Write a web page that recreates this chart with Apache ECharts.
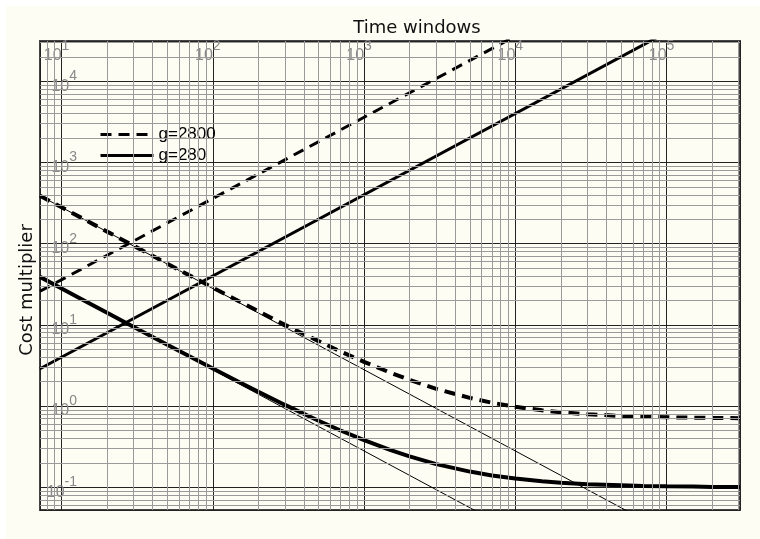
<!DOCTYPE html>
<html><head><meta charset="utf-8">
<script src="https://cdn.jsdelivr.net/npm/echarts@6/dist/echarts.min.js"></script>
<style>html,body{margin:0;padding:0;background:#fff;} #c{position:absolute;left:6px;top:6px;width:754px;height:533px;}</style>
</head><body><div id="c"></div>
<script>
// Axis ranges
const xRange = [7.2, 306000];
const yRange = [0.0525, 31300];

// Sample x positions for the curves
const curveX = [7.2, 10, 15, 20, 30, 50, 70, 100, 150, 200, 300, 500, 700, 1000, 1500, 2000, 3000, 5000, 7000, 10000, 15000, 20000, 30000, 50000, 70000, 100000, 150000, 200000, 306000];
// g=2800 thick dashed curve
const cost2800 = [389.6, 280.7, 187.4, 140.7, 94.0, 56.7, 40.7, 28.7, 19.4, 14.7, 10.0, 6.3, 4.7, 3.5, 2.57, 2.1, 1.63, 1.26, 1.1, 0.98, 0.887, 0.84, 0.793, 0.756, 0.74, 0.728, 0.719, 0.714, 0.709];
// g=280 thick solid curve
const cost280 = [38.99, 28.1, 18.77, 14.1, 9.43, 5.7, 4.1, 2.9, 1.967, 1.5, 1.033, 0.66, 0.5, 0.38, 0.287, 0.24, 0.193, 0.156, 0.14, 0.128, 0.119, 0.114, 0.109, 0.106, 0.104, 0.103, 0.102, 0.101, 0.101];

// Thin straight guide lines (falling)
const guide2800X = [7.2, 60000];
const guide2800Y = [389, 0.0467];
const guide280X = [7.2, 6000];
const guide280Y = [38.9, 0.0467];

// Rising straight lines
const rise2800X = [7.2, 10000];
const rise2800Y = [25.9, 36000];
const rise280X = [7.2, 100000];
const rise280Y = [2.88, 40000];

// Tick decades
const xDecades = [0, 1, 2, 3, 4, 5];
const yDecades = [-2, -1, 0, 1, 2, 3, 4];
const minorMult = [2, 3, 4, 5, 6, 7, 8, 9];

function pairs(xs, ys) { return xs.map((x, i) => [x, ys[i]]); }

const minorLines = [];
xDecades.forEach(d => minorMult.forEach(m => {
  const v = m * Math.pow(10, d);
  if (v > xRange[0] && v < xRange[1]) minorLines.push({ xAxis: v });
}));
yDecades.forEach(d => minorMult.forEach(m => {
  const v = m * Math.pow(10, d);
  if (v > yRange[0] && v < yRange[1]) minorLines.push({ yAxis: v });
}));

const rich = {
  b: { fontSize: 16, lineHeight: 18, padding: [10, 0, 0, 0], color: '#888', fontFamily: 'Liberation Sans' },
  s: { fontSize: 14, lineHeight: 18, padding: [0, 0, 10, 0], color: '#888', fontFamily: 'Liberation Sans' }
};
function supFmt(v) {
  const e = Math.round(Math.log10(v));
  return '{b|10}{s|' + e + '}';
}

const chart = echarts.init(document.getElementById('c'), null, { renderer: 'canvas' });
chart.setOption({
  animation: false,
  backgroundColor: '#fefdf4',
  grid: { left: 34, top: 35, right: 20, bottom: 29, show: true, borderColor: '#444', borderWidth: 2, backgroundColor: 'transparent' },
  xAxis: {
    type: 'log', logBase: 10, position: 'top', min: xRange[0], max: xRange[1],
    axisLine: { show: false }, axisTick: { show: false },
    splitLine: { show: true, lineStyle: { color: '#222', width: 1 } },
    axisLabel: { inside: true, margin: 1, fontSize: 16, color: '#888', fontFamily: 'Liberation Sans', formatter: supFmt, rich: rich, showMinLabel: false, showMaxLabel: false, padding: [0, 10, 0, 0] }
  },
  yAxis: {
    type: 'log', logBase: 10, min: yRange[0], max: yRange[1],
    axisLine: { show: false }, axisTick: { show: false },
    splitLine: { show: true, lineStyle: { color: '#222', width: 1 } },
    axisLabel: { inside: true, margin: 37, align: 'right', fontSize: 16, color: '#888', fontFamily: 'Liberation Sans', formatter: supFmt, rich: rich, showMinLabel: false, showMaxLabel: false }
  },
  legend: {
    data: ['g=2800', 'g=280'], orient: 'vertical', left: 88, top: 115,
    itemWidth: 53, itemHeight: 14, itemGap: 4,
    itemStyle: { opacity: 0 },
    lineStyle: { width: 3 },
    textStyle: { fontSize: 17, lineHeight: 17, color: '#000', fontFamily: 'Liberation Sans' }
  },
  graphic: [
    { type: 'text', x: 411, y: 22, style: { text: 'Time windows', font: '18px "DejaVu Sans"', fill: '#111', align: 'center', verticalAlign: 'middle' } },
    { type: 'text', x: 21, y: 284, rotation: Math.PI / 2, style: { text: 'Cost multiplier', font: '18px "DejaVu Sans"', fill: '#111', align: 'center', verticalAlign: 'middle' } }
  ],
  series: [
    { type: 'line', data: [], silent: true, z: 1,
      markLine: { silent: true, symbol: 'none', label: { show: false }, animation: false,
        lineStyle: { color: '#9a9a9a', width: 1, type: 'solid' }, emphasis: { disabled: true }, data: minorLines } },
    { type: 'line', data: pairs(guide2800X, guide2800Y), symbol: 'none', lineStyle: { color: '#000', width: 1 }, silent: true },
    { type: 'line', data: pairs(guide280X, guide280Y), symbol: 'none', lineStyle: { color: '#000', width: 1 }, silent: true },
    { type: 'line', data: pairs(rise2800X, rise2800Y), symbol: 'none', lineStyle: { color: '#000', width: 3, type: [11, 7] }, silent: true },
    { type: 'line', data: pairs(rise280X, rise280Y), symbol: 'none', lineStyle: { color: '#000', width: 3 }, silent: true },
    { name: 'g=2800', type: 'line', data: pairs(curveX, cost2800), symbol: 'none', itemStyle: { color: '#000' }, lineStyle: { color: '#000', width: 4, type: [11, 7] } },
    { name: 'g=280', type: 'line', data: pairs(curveX, cost280), symbol: 'none', itemStyle: { color: '#000' }, lineStyle: { color: '#000', width: 4 } }
  ]
});
</script></body></html>
